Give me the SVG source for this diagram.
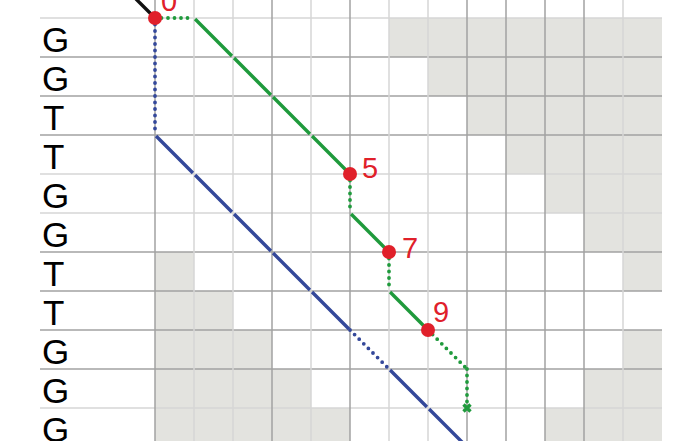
<svg xmlns="http://www.w3.org/2000/svg" width="700" height="441" viewBox="0 0 700 441">
<style>
.cell{fill:#e3e3df}
.gd{stroke:#a2a2a2;stroke-width:1.5}
.gl{stroke:#d6d6d6;stroke-width:1.5}
.lbl{font-family:"Liberation Sans",Arial,sans-serif;font-size:35px;fill:#000}
.num{font-family:"Liberation Sans",Arial,sans-serif;font-size:29px;fill:#e0202a}
.green{stroke:#1f9a3c;stroke-width:3.4;fill:none}
.blue{stroke:#34489a;stroke-width:3.4;fill:none}
.dot{stroke-dasharray:0 6.5;stroke-linecap:round;stroke-width:3.8}
.dash{stroke-dasharray:52.15 3;stroke-dashoffset:-1.5}
.pt{fill:#e0202a}
</style>
<rect width="700" height="441" fill="#fff"/>
<g id="cells">
<rect class="cell" x="389" y="18" width="273" height="39"/>
<rect class="cell" x="428" y="57" width="234" height="39"/>
<rect class="cell" x="467" y="96" width="195" height="39"/>
<rect class="cell" x="506" y="135" width="156" height="39"/>
<rect class="cell" x="545" y="174" width="117" height="39"/>
<rect class="cell" x="584" y="213" width="78" height="39"/>
<rect class="cell" x="623" y="252" width="39" height="39"/>
<rect class="cell" x="155" y="252" width="39" height="39"/>
<rect class="cell" x="155" y="291" width="78" height="39"/>
<rect class="cell" x="155" y="330" width="117" height="39"/>
<rect class="cell" x="623" y="330" width="39" height="39"/>
<rect class="cell" x="155" y="369" width="156" height="39"/>
<rect class="cell" x="584" y="369" width="78" height="39"/>
<rect class="cell" x="155" y="408" width="195" height="33"/>
<rect class="cell" x="545" y="408" width="117" height="33"/>
</g>
<g id="grid">
<line class="gl" x1="40" y1="18" x2="662" y2="18"/>
<line class="gd" x1="40" y1="57" x2="662" y2="57"/>
<line class="gd" x1="40" y1="96" x2="662" y2="96"/>
<line class="gd" x1="40" y1="135" x2="662" y2="135"/>
<line class="gl" x1="40" y1="174" x2="662" y2="174"/>
<line class="gl" x1="40" y1="213" x2="662" y2="213"/>
<line class="gd" x1="40" y1="252" x2="662" y2="252"/>
<line class="gd" x1="40" y1="291" x2="662" y2="291"/>
<line class="gd" x1="40" y1="330" x2="662" y2="330"/>
<line class="gd" x1="40" y1="369" x2="662" y2="369"/>
<line class="gl" x1="40" y1="408" x2="662" y2="408"/>
<line class="gd" x1="155" y1="0" x2="155" y2="441"/>
<line class="gl" x1="194" y1="0" x2="194" y2="441"/>
<line class="gl" x1="233" y1="0" x2="233" y2="441"/>
<line class="gd" x1="272" y1="0" x2="272" y2="441"/>
<line class="gl" x1="311" y1="0" x2="311" y2="441"/>
<line class="gd" x1="350" y1="0" x2="350" y2="441"/>
<line class="gl" x1="389" y1="0" x2="389" y2="441"/>
<line class="gl" x1="428" y1="0" x2="428" y2="441"/>
<line class="gd" x1="467" y1="0" x2="467" y2="441"/>
<line class="gd" x1="506" y1="0" x2="506" y2="441"/>
<line class="gd" x1="545" y1="0" x2="545" y2="441"/>
<line class="gd" x1="584" y1="0" x2="584" y2="441"/>
<line class="gl" x1="623" y1="0" x2="623" y2="441"/>
</g>
<g id="row-labels">
<text class="lbl" x="42" y="52">G</text>
<text class="lbl" x="42" y="91">G</text>
<text class="lbl" x="43" y="130">T</text>
<text class="lbl" x="43" y="169">T</text>
<text class="lbl" x="42" y="208">G</text>
<text class="lbl" x="42" y="247">G</text>
<text class="lbl" x="43" y="286">T</text>
<text class="lbl" x="43" y="325">T</text>
<text class="lbl" x="42" y="364">G</text>
<text class="lbl" x="42" y="403">G</text>
<text class="lbl" x="42" y="442">G</text>
</g>
<g id="connectors">
<line x1="133" y1="-4" x2="155" y2="18" stroke="#111" stroke-width="3.4"/>
<line class="green dot" x1="155" y1="18" x2="194" y2="18"/>
<line class="green dash" x1="194" y1="18" x2="350" y2="174"/>
<line class="green dot" x1="350" y1="174" x2="350" y2="213"/>
<line class="green dash" x1="350" y1="213" x2="389" y2="252"/>
<line class="green dot" x1="389" y1="252" x2="389" y2="291"/>
<line class="green dash" x1="389" y1="291" x2="428" y2="330"/>
<line class="green dot" x1="428" y1="330" x2="467" y2="369"/>
<line class="green dot" x1="467" y1="369" x2="467" y2="408"/>
<path class="green" d="M463.5 404.5 L470.5 411.5 M470.5 404.5 L463.5 411.5" stroke-width="2.8"/>
<line class="blue dot" x1="155" y1="18" x2="155" y2="135"/>
<line class="blue dash" x1="155" y1="135" x2="350" y2="330"/>
<line class="blue dot" x1="350" y1="330" x2="389" y2="369"/>
<line class="blue dash" x1="389" y1="369" x2="467" y2="447"/>
</g>
<g id="n0"><circle class="pt" cx="155" cy="18" r="7"/><text class="num" x="161" y="11">0</text></g>
<g id="n5"><circle class="pt" cx="350" cy="174" r="7"/><text class="num" x="362" y="178">5</text></g>
<g id="n7"><circle class="pt" cx="389" cy="252" r="7"/><text class="num" x="402" y="258">7</text></g>
<g id="n9"><circle class="pt" cx="428" cy="330" r="7"/><text class="num" x="433" y="322">9</text></g>
</svg>
